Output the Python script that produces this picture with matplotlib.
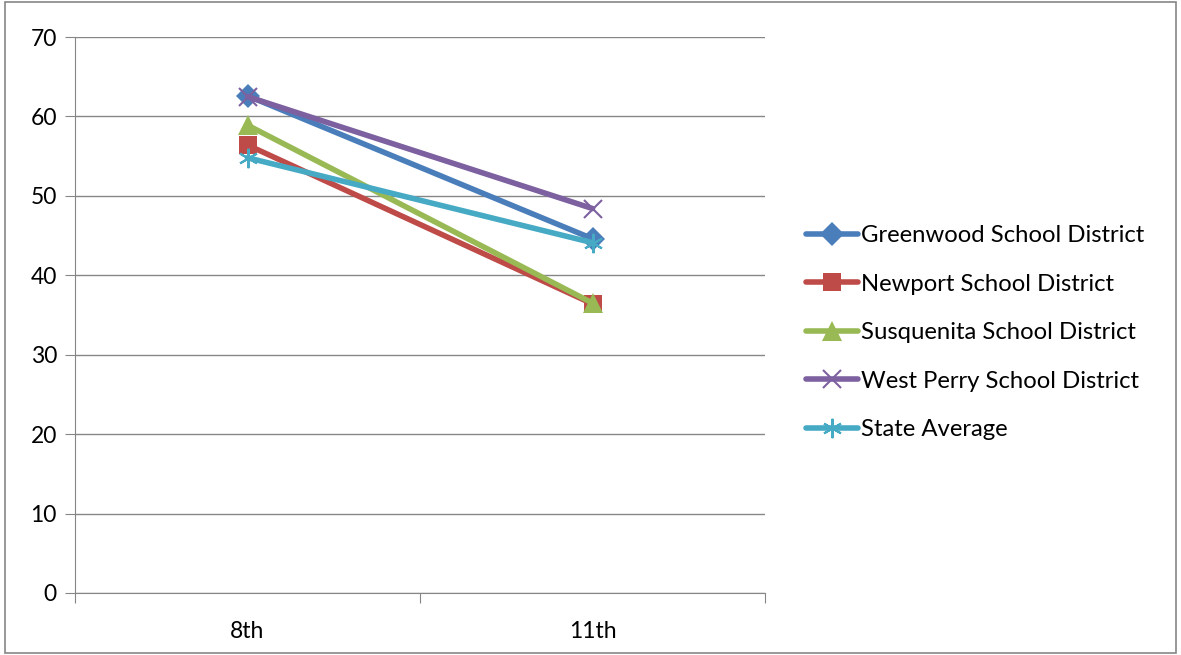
import matplotlib.pyplot as plt
from matplotlib.patches import Rectangle

grades = ["8th", "11th"]
greenwood = [62.6, 44.6]
newport = [56.4, 36.4]
susquenita = [58.9, 36.5]
west_perry = [62.5, 48.4]
state_avg = [54.8, 44.1]

series = [
    ("Greenwood School District", greenwood, "#4A7EBB", "D", 12),
    ("Newport School District", newport, "#BE4B48", "s", 13),
    ("Susquenita School District", susquenita, "#98B954", "^", 14),
    ("West Perry School District", west_perry, "#7D60A0", "x", 13),
    ("State Average", state_avg, "#46AAC5", (6, 2, 0), 14),
]

plt.rcParams["font.family"] = ["Lato", "DejaVu Sans"]

fig = plt.figure(figsize=(11.81, 6.55), dpi=100)
ax = fig.add_axes([0.0635, 0.0947, 0.5843, 0.8488])

x = [0.5, 1.5]
for name, vals, color, marker, ms in series:
    kw = dict(markeredgewidth=1.5) if marker in ("x", (6, 2, 0)) else dict(markeredgewidth=0)
    ax.plot(x, vals, color=color, linewidth=4, marker=marker, markersize=ms,
            label=name, solid_capstyle="round", **kw)

ax.set_xlim(0, 2)
ax.set_ylim(0, 70)
ax.set_yticks(range(0, 71, 10))
ax.set_xticks([0, 1, 2])
ax.set_xticklabels([])
ax.set_xticks(x, minor=True)
ax.set_xticklabels(grades, minor=True)
ax.tick_params(axis="x", which="minor", length=0, pad=20, labelsize=16.5)
ax.tick_params(axis="x", which="major", length=7, color="#868686", direction="out")
ax.tick_params(axis="y", length=7, color="#868686", labelsize=16.5, pad=6)
ax.yaxis.grid(True, color="#868686", linewidth=1)
ax.set_axisbelow(True)
for side in ("top", "right"):
    ax.spines[side].set_visible(False)
for side in ("left", "bottom"):
    ax.spines[side].set_color("#868686")

ax.legend(loc="center left", bbox_to_anchor=(1.059, 0.468), frameon=False,
          fontsize=17.2, handlelength=2.2, handletextpad=0.1, labelspacing=1.15,
          borderaxespad=0, borderpad=0)

fig.patches.append(Rectangle((0.004, 0.003), 0.992, 0.994, transform=fig.transFigure,
                             fill=False, edgecolor="#868686", linewidth=1.2))

fig.savefig("out.png", dpi=100)
